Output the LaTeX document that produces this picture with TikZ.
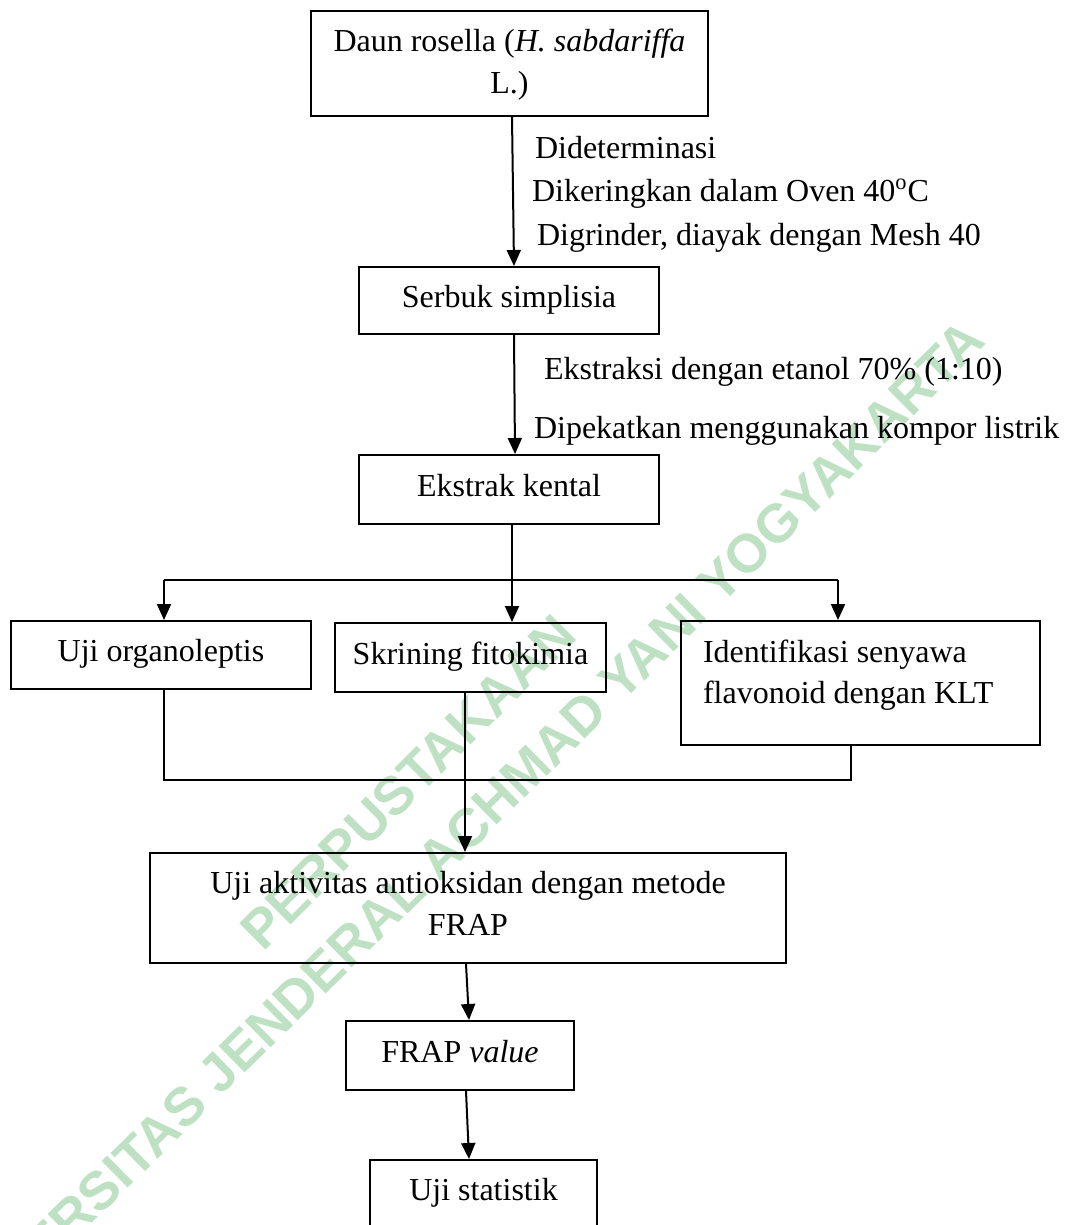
\documentclass[tikz,border=0pt]{standalone}
\usepackage{fontspec}
\setmainfont{Liberation Serif}
\newfontfamily\wmfont{Liberation Sans}
\usetikzlibrary{arrows.meta}
\definecolor{wmgreen}{RGB}{190,225,195}
\begin{document}
\begin{tikzpicture}[x=0.5pt,y=-0.5pt,line width=1pt,
  txt/.style={font=\fontsize{16}{21}\selectfont},
  box/.style={draw,line width=1pt,inner sep=0pt,align=center,txt},
  one/.style={text height=0.86em,text depth=0.2em},
  lbl/.style={inner sep=0pt,txt},
  arr/.style={-{Triangle[length=8pt,width=7pt]}},
  wm/.style={text=wmgreen,inner sep=0pt,font=\wmfont\bfseries\fontsize{27}{30}\selectfont}]
\useasboundingbox (0,0) rectangle (1069,1225);
\clip (0,0) rectangle (1069,1225);
% watermark
\node[wm,rotate=44.5] (w1) at (458,838) {UNIVERSITAS JENDERAL ACHMAD YANI YOGYAKARTA};
\node[wm,rotate=45] (w2) at (408,782) {PERPUSTAKAAN};
% boxes
\node[box,minimum width=198.5pt,minimum height=52.5pt] (A) at (509.5,63.5) {};
\node[lbl,anchor=base] (A1) at (509.5,52) {Daun rosella (\textit{H. sabdariffa}};
\node[lbl,anchor=base] (A2) at (509.5,94) {L.)};
\node[box,one,minimum width=150pt,minimum height=33.5pt] (B) at (509,300.5) {Serbuk simplisia};
\node[box,one,minimum width=150pt,minimum height=34.5pt] (C) at (509,489.5) {Ekstrak kental};
\node[box,one,minimum width=150pt,minimum height=34pt] (D) at (161,655) {Uji organoleptis};
\node[box,one,minimum width=135.5pt,minimum height=34.5pt] (E) at (470.5,657.5) {Skrining fitokimia};
\node[box,minimum width=179.5pt,minimum height=62pt] (F) at (860.5,683) {};
\node[lbl,anchor=base west] (F1) at (702,662) {Identifikasi senyawa};
\node[lbl,anchor=base west] (F2) at (702,703) {flavonoid dengan KLT};
\node[box,minimum width=318pt,minimum height=55pt] (G) at (468,908) {};
\node[lbl,anchor=base] (G1) at (468,893) {Uji aktivitas antioksidan dengan metode};
\node[lbl,anchor=base] (G2) at (468,935) {FRAP};
\node[box,one,minimum width=114pt,minimum height=34.5pt] (H) at (460,1055.5) {FRAP \textit{value}};
\node[box,one,minimum width=113.5pt,minimum height=34pt] (I) at (483.5,1194) {Uji statistik};
% step labels
\node[lbl,anchor=base west] (l1) at (534,159) {Dideterminasi};
\node[lbl,anchor=base west] (l2) at (531,202) {Dikeringkan dalam Oven 40\textsuperscript{o}C};
\node[lbl,anchor=base west] (l3) at (536,246) {Digrinder, diayak dengan Mesh 40};
\node[lbl,anchor=base west] (l4) at (543,379) {Ekstraksi dengan etanol 70\% (1:10)};
\node[lbl,anchor=base west] (l5) at (533,438) {Dipekatkan menggunakan kompor listrik};
% connectors
\draw[arr] ([xshift=1.25pt]A.south) -- ([xshift=2.5pt]B.north);
\draw[arr] ([xshift=2.5pt]B.south) -- ([xshift=3pt]C.north);
\coordinate (j1) at (512,580);
\coordinate (bl) at (164,580);
\coordinate (br) at (838,580);
\draw (j1 |- C.south) -- (j1);
\draw (bl) -- (br);
\draw[arr] (bl) -- (bl |- D.north);
\draw[arr] (j1) -- (j1 |- E.north);
\draw[arr] (br) -- (br |- F.north);
\coordinate (ml) at (164,780);
\coordinate (mr) at (851,780);
\coordinate (mc) at (465,780);
\draw (ml |- D.south) -- (ml) -- (mr) -- (mr |- F.south);
\draw[arr] (mc |- E.south) -- (mc |- G.north);
\draw[arr] ([xshift=-1pt]G.south) -- ([xshift=4.5pt]H.north);
\draw[arr] ([xshift=3pt]H.south) -- ([xshift=-7.25pt]I.north);
\end{tikzpicture}
\end{document}
